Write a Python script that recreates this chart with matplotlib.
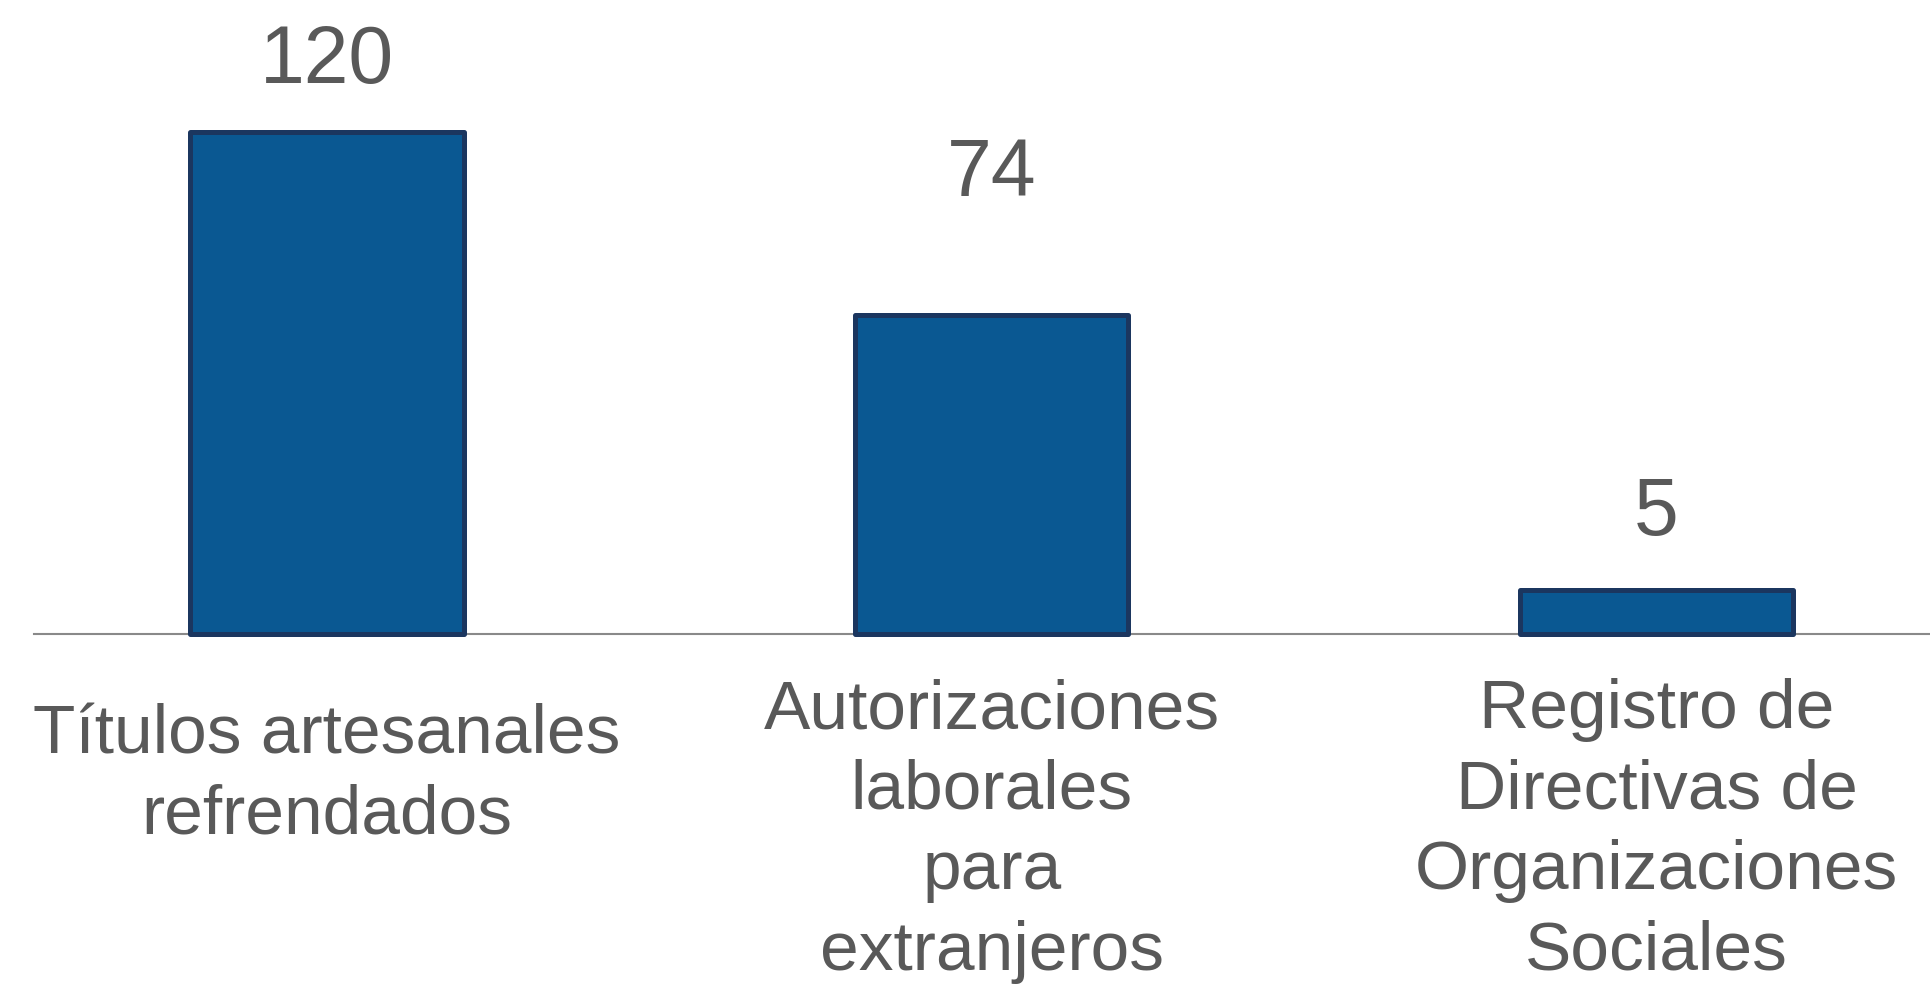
import numpy as np
import matplotlib
matplotlib.use("Agg")
import matplotlib.pyplot as plt

# data
categories = ["Títulos artesanales\nrefrendados",
              "Autorizaciones\nlaborales\npara\nextranjeros",
              "Registro de\nDirectivas de\nOrganizaciones\nSociales"]
values = [120, 74, 5]

plt.rcParams['font.family'] = ['Liberation Sans', 'DejaVu Sans']
text_color = '#595959'
y_min, y_max = -6, 153.1

fig = plt.figure(figsize=(19.31, 9.89), dpi=100)
ax = fig.add_axes([34/1931, 355/989, 1897/1931, 634/989])

x = np.arange(len(values))
ax.bar(x, np.array(values) - y_min, bottom=y_min, width=0.411,
       color='#0A5892', edgecolor='#1B365F', linewidth=3.6,
       joinstyle='round', zorder=3, clip_on=False)

ax.set_xlim(-0.4408, 2.413)
ax.set_ylim(y_min, y_max)

# value labels (offsets in points above bar top)
label_offsets = [35, 86, 40]
for xi, v, off in zip(x, values, label_offsets):
    ax.annotate(str(v), (xi, v), xytext=(0, off), textcoords='offset points',
                ha='center', va='baseline', fontsize=58, color=text_color)

# category labels
cat_offsets = [-50, -32, -32]
for xi, lab, off in zip(x, categories, cat_offsets):
    ax.annotate(lab, (xi, y_min), xytext=(0, off), textcoords='offset points',
                ha='center', va='top', fontsize=50, color=text_color,
                linespacing=1.33, annotation_clip=False)

for s in ['top', 'left', 'right']:
    ax.spines[s].set_visible(False)
ax.spines['bottom'].set_color('#898989')
ax.spines['bottom'].set_linewidth(1.5)
ax.spines['bottom'].set_zorder(2)
ax.set_xticks([])
ax.set_yticks([])

fig.savefig('out.png', dpi=100)
